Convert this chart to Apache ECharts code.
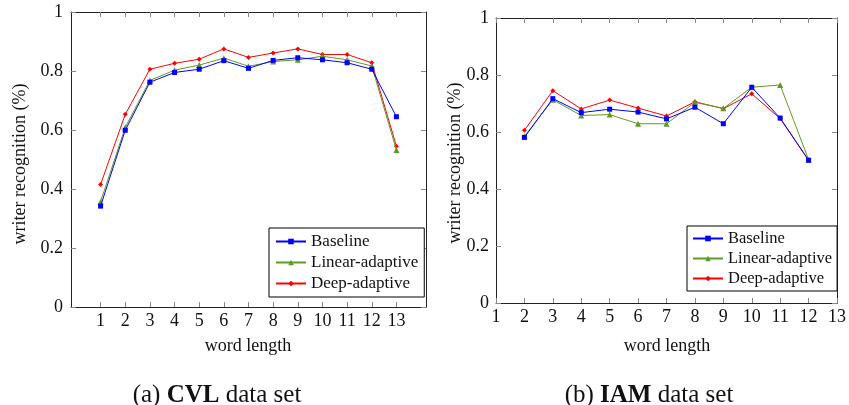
<!DOCTYPE html>
<html>
<head>
<meta charset="utf-8">
<script src="https://cdn.jsdelivr.net/npm/echarts@6/dist/echarts.min.js"></script>
<style>
html,body{margin:0;padding:0;background:#fff;}
#chart{width:849px;height:405px;}
</style>
</head>
<body>
<div id="chart"></div>
<script>
// ---- data ----
const seriesNames = ['Baseline', 'Linear-adaptive', 'Deep-adaptive'];
const cvlLengths = [1, 2, 3, 4, 5, 6, 7, 8, 9, 10, 11, 12, 13];
const cvlBaseline = [0.342, 0.599, 0.762, 0.795, 0.806, 0.835, 0.809, 0.836, 0.845, 0.838, 0.828, 0.806, 0.645];
const cvlLinear   = [0.357, 0.609, 0.768, 0.803, 0.820, 0.844, 0.816, 0.832, 0.838, 0.850, 0.838, 0.817, 0.532];
const cvlDeep     = [0.415, 0.653, 0.806, 0.826, 0.840, 0.875, 0.846, 0.861, 0.875, 0.856, 0.856, 0.828, 0.545];

const iamLengths = [2, 3, 4, 5, 6, 7, 8, 9, 10, 11, 12];
const iamBaseline = [0.581, 0.717, 0.668, 0.680, 0.670, 0.646, 0.687, 0.629, 0.757, 0.649, 0.501];
const iamLinear   = [0.585, 0.713, 0.658, 0.661, 0.629, 0.629, 0.704, 0.683, 0.757, 0.765, 0.503];
const iamDeep     = [0.606, 0.745, 0.681, 0.712, 0.684, 0.656, 0.706, 0.682, 0.734, 0.647, 0.501];

const yTicks = [0, 0.2, 0.4, 0.6, 0.8, 1];
const cvlXTicks = [1, 2, 3, 4, 5, 6, 7, 8, 9, 10, 11, 12, 13];
const iamXTicks = [1, 2, 3, 4, 5, 6, 7, 8, 9, 10, 11, 12, 13];
const captionA = '(a) {b|CVL} data set';
const captionB = '(b) {b|IAM} data set';
const xTitle = 'word length';
const yTitle = 'writer recognition (%)';

// ---- styling ----
const FONT = 'Liberation Serif';
const colors = ['#0000ff', '#5f9b22', '#ff0000'];
const symbols = ['rect', 'triangle', 'diamond'];
const symbolSizes = [5, 6, 5];

const pair = (xs, ys) => xs.map((x, i) => [x, ys[i]]);

const chart = echarts.init(document.getElementById('chart'), null, {renderer: 'canvas'});

const axisLine = {show: true, onZero: false, lineStyle: {color: '#222', width: 1}};
const tick = {show: true, inside: true, length: 5, lineStyle: {color: '#888', width: 1}};
const lbl = {color: '#111', fontFamily: FONT, fontSize: 18};

function xAxes(gi, min, max, ticks, pos) {
  const base = {
    type: 'value', gridIndex: gi, min: min, max: max, position: pos,
    splitLine: {show: false}, axisLine: axisLine,
    axisTick: Object.assign({}, tick, {customValues: ticks}),
  };
  if (pos === 'bottom') {
    base.axisLabel = Object.assign({}, lbl, {customValues: ticks, margin: 5});
  } else {
    base.axisLabel = {show: false, customValues: ticks};
  }
  return base;
}
function yAxes(gi, pos, margin) {
  const base = {
    type: 'value', gridIndex: gi, min: 0, max: 1, position: pos,
    splitLine: {show: false}, axisLine: axisLine,
    axisTick: Object.assign({}, tick, {customValues: yTicks}),
  };
  if (pos === 'left') {
    base.axisLabel = Object.assign({}, lbl, {customValues: yTicks, margin: margin});
  } else {
    base.axisLabel = {show: false, customValues: yTicks};
  }
  return base;
}

function mkSeries(gi, xs, arrs) {
  return arrs.map((ys, k) => ({
    name: seriesNames[k], type: 'line',
    xAxisIndex: gi * 2, yAxisIndex: gi * 2,
    data: pair(xs, ys),
    symbol: symbols[k], symbolSize: symbolSizes[k],
    showAllSymbol: true,
    lineStyle: {color: colors[k], width: 1},
    itemStyle: {color: colors[k]},
    emphasis: {disabled: true},
    animation: false, z: 3 + (2 - k)
  }));
}

const legendCommon = {
  orient: 'vertical', data: seriesNames,
  borderColor: '#000', borderWidth: 1, borderRadius: 0,
  backgroundColor: '#fff',
  itemWidth: 30, itemHeight: 7, itemGap: 4,
  textStyle: {fontFamily: FONT, fontSize: 17, color: '#111'},
  selectedMode: false
};

const titleStyle = {fontFamily: FONT, fontSize: 18, fill: '#111', align: 'center', verticalAlign: 'middle'};

const option = {
  animation: false,
  color: colors,
  title: [
    {text: captionA, left: 212, top: 378, textAlign: 'center',
     textStyle: {fontFamily: FONT, fontSize: 25, fontWeight: 'normal', color: '#111',
                 rich: {b: {fontFamily: FONT, fontSize: 25, fontWeight: 'bold', color: '#111'}}}},
    {text: captionB, left: 644, top: 378, textAlign: 'center',
     textStyle: {fontFamily: FONT, fontSize: 25, fontWeight: 'normal', color: '#111',
                 rich: {b: {fontFamily: FONT, fontSize: 25, fontWeight: 'bold', color: '#111'}}}}
  ],
  graphic: [
    {type: 'text', x: 248, y: 346, style: Object.assign({text: xTitle}, titleStyle)},
    {type: 'text', x: 667, y: 346, style: Object.assign({text: xTitle}, titleStyle)},
    {type: 'text', x: 20, y: 164, rotation: Math.PI / 2, style: Object.assign({text: yTitle}, titleStyle)},
    {type: 'text', x: 455, y: 163, rotation: Math.PI / 2, style: Object.assign({text: yTitle}, titleStyle)}
  ],
  legend: [
    Object.assign({}, legendCommon, {left: 269, top: 228, padding: [5, 6, 5, 6]}),
    Object.assign({}, legendCommon, {left: 687, top: 226, padding: [4, 5, 4, 5],
      itemGap: 3, textStyle: {fontFamily: FONT, fontSize: 16.5, color: '#111'}})
  ],
  grid: [
    {left: 71, top: 12, width: 355, height: 295},
    {left: 496, top: 18, width: 343, height: 285}
  ],
  xAxis: [
    xAxes(0, -0.2, 14.2, cvlXTicks, 'bottom'),
    xAxes(0, -0.2, 14.2, cvlXTicks, 'top'),
    xAxes(1, 1, 13, iamXTicks, 'bottom'),
    xAxes(1, 1, 13, iamXTicks, 'top')
  ],
  yAxis: [
    yAxes(0, 'left', 8),
    yAxes(0, 'right'),
    yAxes(1, 'left', 7),
    yAxes(1, 'right')
  ],
  series: [].concat(
    mkSeries(0, cvlLengths, [cvlBaseline, cvlLinear, cvlDeep]),
    mkSeries(1, iamLengths, [iamBaseline, iamLinear, iamDeep])
  )
};
chart.setOption(option);
</script>
</body>
</html>
